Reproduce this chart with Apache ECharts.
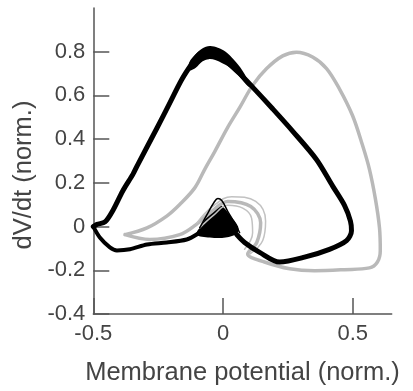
<!DOCTYPE html>
<html>
<head>
<meta charset="utf-8">
<script src="https://cdn.jsdelivr.net/npm/echarts@6/dist/echarts.min.js"></script>
<style>
  html, body { margin: 0; padding: 0; background: #fff; }
  #chart { width: 413px; height: 391px; }
</style>
</head>
<body>
<div id="chart"></div>
<script>
// phase plot traces, [V, dV/dt]
const blackLoop = [
  [-0.50, 0.0], [-0.486, 0.010], [-0.455, 0.021], [-0.424, 0.075], [-0.386, 0.164],
  [-0.347, 0.240], [-0.328, 0.285], [-0.255, 0.450], [-0.205, 0.566], [-0.159, 0.673],
  [-0.120, 0.745], [-0.090, 0.790], [-0.051, 0.798], [-0.013, 0.785], [0.014, 0.755],
  [0.064, 0.700], [0.114, 0.638], [0.191, 0.539], [0.268, 0.437], [0.360, 0.307],
  [0.422, 0.186], [0.468, 0.097], [0.491, 0.025], [0.495, -0.019], [0.476, -0.064],
  [0.410, -0.104], [0.314, -0.140], [0.218, -0.162], [0.141, -0.118], [0.083, -0.073],
  [0.053, -0.037]
];
const blackTail = [
  [-0.097, -0.033], [-0.140, -0.059], [-0.217, -0.073], [-0.293, -0.082], [-0.359, -0.104],
  [-0.409, -0.109], [-0.436, -0.095], [-0.474, -0.051], [-0.50, 0.0]
];
const blackPeak = [
  [-0.130, 0.752], [-0.105, 0.790], [-0.080, 0.815], [-0.051, 0.826], [-0.020, 0.818],
  [0.010, 0.800], [0.040, 0.765], [0.075, 0.713], [0.100, 0.655],
  [0.098, 0.640], [0.060, 0.690], [0.030, 0.725], [-0.001, 0.746], [-0.030, 0.762],
  [-0.055, 0.766], [-0.080, 0.755], [-0.105, 0.727], [-0.130, 0.715]
];
const blackInnerLoop = [
  [-0.090, -0.006], [-0.063, 0.052], [-0.035, 0.110], [-0.020, 0.128], [-0.005, 0.119],
  [0.018, 0.070], [0.049, 0.008], [0.064, -0.028]
];
const blackBlob = [
  [-0.028, 0.090], [-0.005, 0.094], [0.028, 0.050], [0.058, 0.000], [0.055, -0.030],
  [0.010, -0.050], [-0.051, -0.050], [-0.102, -0.036], [-0.082, 0.008], [-0.062, 0.048]
];
const grayLoop = [
  [-0.378, -0.037], [-0.293, -0.006], [-0.217, 0.048], [-0.167, 0.101], [-0.109, 0.177],
  [-0.070, 0.263], [-0.032, 0.343], [0.018, 0.454], [0.064, 0.544], [0.114, 0.646],
  [0.168, 0.723], [0.230, 0.781], [0.283, 0.798], [0.345, 0.776], [0.399, 0.723],
  [0.449, 0.629], [0.499, 0.508], [0.537, 0.374], [0.564, 0.263], [0.587, 0.128],
  [0.603, -0.006], [0.606, -0.109], [0.595, -0.162], [0.564, -0.189], [0.468, -0.197],
  [0.353, -0.202], [0.257, -0.193], [0.160, -0.162], [0.095, -0.126], [0.130, -0.073],
  [0.145, 0.017], [0.107, 0.092], [0.018, 0.115], [-0.043, 0.070], [-0.105, 0.008],
  [-0.167, -0.037], [-0.282, -0.059], [-0.378, -0.037]
];
const grayInnerA = [
  [0.083, -0.104], [0.114, -0.028], [0.110, 0.039], [0.076, 0.084], [0.018, 0.097],
  [-0.036, 0.052], [-0.090, -0.006]
];
const grayInnerB = [
  [0.103, -0.126], [0.153, -0.064], [0.164, 0.025], [0.126, 0.115], [0.033, 0.137],
  [-0.040, 0.092], [-0.101, 0.017]
];
const xTicks = [-0.5, 0, 0.5];
const yTicks = [-0.4, -0.2, 0, 0.2, 0.4, 0.6, 0.8];

const chart = echarts.init(document.getElementById('chart'));

const axisColor = '#555';
const textColor = '#444';
const font = 'Liberation Sans, Arial, sans-serif';

function trace(data, color, width, smooth) {
  return {
    type: 'line',
    data: data,
    showSymbol: false,
    smooth: smooth,
    lineStyle: { color: color, width: width, cap: 'round', join: 'round' },
    silent: true,
  };
}

// filled shape drawn through the axis scales
function patch(data, color) {
  return {
    type: 'custom',
    data: data,
    silent: true,
    renderItem: (params, api) => {
      if (params.dataIndex !== 0) return null;
      return {
        type: 'polygon',
        shape: { points: data.map((p) => api.coord(p)), smooth: 0.35 },
        style: { fill: color },
      };
    },
  };
}

chart.setOption({
  animation: false,
  grid: { left: 93.3, right: 21.3, top: 8, bottom: 67.7 },
  xAxis: {
    type: 'value',
    min: -0.5,
    max: 0.65,
    name: 'Membrane potential (norm.)',
    nameLocation: 'middle',
    nameGap: 46,
    nameTextStyle: { color: textColor, fontSize: 25.5, fontFamily: font },
    splitLine: { show: false },
    axisLine: { onZero: false, lineStyle: { color: axisColor, width: 1.5 } },
    axisTick: { inside: true, length: 16, customValues: xTicks, lineStyle: { color: axisColor, width: 1.5 } },
    axisLabel: {
      customValues: xTicks,
      margin: 9,
      color: textColor,
      fontSize: 22,
      fontFamily: font,
      formatter: (v) => (v === 0 ? '0' : String(v)),
    },
  },
  yAxis: {
    type: 'value',
    min: -0.4,
    max: 1.0,
    name: 'dV/dt (norm.)',
    nameLocation: 'middle',
    nameGap: 55,
    nameTextStyle: { color: textColor, fontSize: 25.5, fontFamily: font, padding: [0, 28, 0, 0] },
    splitLine: { show: false },
    axisLine: { onZero: false, lineStyle: { color: axisColor, width: 1.5 } },
    axisTick: { inside: true, length: 16, customValues: yTicks, lineStyle: { color: axisColor, width: 1.5 } },
    axisLabel: {
      customValues: yTicks,
      margin: 8,
      color: textColor,
      fontSize: 22,
      fontFamily: font,
      formatter: (v) => (v === 0 ? '0' : String(v)),
    },
  },
  series: [
    trace(grayLoop, '#b9b9b9', 3.5, 0.35),
    trace(grayInnerA, '#c2c2c2', 1.5, 0.4),
    trace(grayInnerB, '#c2c2c2', 1.5, 0.4),
    trace(blackLoop, '#000', 5, 0.3),
    trace(blackTail, '#000', 4, 0.3),
    trace(blackInnerLoop, '#000', 1.5, 0.4),
    patch(blackPeak, '#000'),
    patch(blackBlob, '#000'),
  ],
});
</script>
</body>
</html>
